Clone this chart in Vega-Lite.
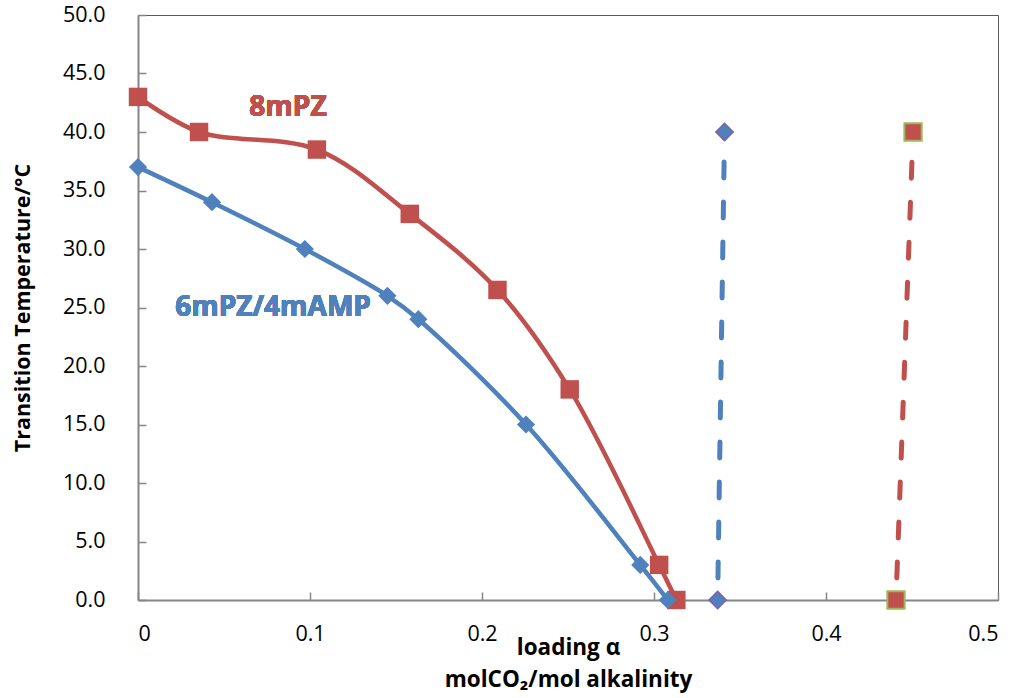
{
  "$schema": "https://vega.github.io/schema/vega-lite/v6.json",
  "width": 860,
  "height": 585,
  "autosize": "none",
  "padding": {"left": 138, "top": 15, "right": 20, "bottom": 98},
  "background": "white",
  "config": {
    "view": {"stroke": "#595959", "strokeWidth": 1},
    "font": "Open Sans",
    "axis": {
      "grid": false,
      "domainColor": "#868686",
      "domainWidth": 2,
      "tickColor": "#868686",
      "tickWidth": 1.5,
      "labelFont": "Open Sans",
      "labelFontSize": 21.5,
      "labelColor": "#000000",
      "titleFont": "Open Sans",
      "titleFontSize": 21.5,
      "titleFontWeight": "bold",
      "titleColor": "#000000"
    }
  },
  "data": {
    "values": [
      {"series": "8mPZ", "x": 0.0, "y": 43},
      {"series": "8mPZ", "x": 0.0355, "y": 40},
      {"series": "8mPZ", "x": 0.104, "y": 38.5},
      {"series": "8mPZ", "x": 0.158, "y": 33},
      {"series": "8mPZ", "x": 0.209, "y": 26.5},
      {"series": "8mPZ", "x": 0.251, "y": 18},
      {"series": "8mPZ", "x": 0.303, "y": 3},
      {"series": "8mPZ", "x": 0.313, "y": 0},
      {"series": "6mPZ/4mAMP", "x": 0.0, "y": 37},
      {"series": "6mPZ/4mAMP", "x": 0.043, "y": 34},
      {"series": "6mPZ/4mAMP", "x": 0.097, "y": 30},
      {"series": "6mPZ/4mAMP", "x": 0.145, "y": 26},
      {"series": "6mPZ/4mAMP", "x": 0.163, "y": 24},
      {"series": "6mPZ/4mAMP", "x": 0.2256, "y": 15},
      {"series": "6mPZ/4mAMP", "x": 0.292, "y": 3},
      {"series": "6mPZ/4mAMP", "x": 0.308, "y": 0},
      {"series": "blue dashed", "x": 0.341, "y": 40},
      {"series": "blue dashed", "x": 0.337, "y": 0},
      {"series": "red dashed", "x": 0.4506, "y": 40},
      {"series": "red dashed", "x": 0.4407, "y": 0}
    ]
  },
  "encoding": {
    "x": {
      "field": "x", "type": "quantitative",
      "scale": {"domain": [0, 0.5], "nice": false, "zero": false},
      "axis": {
        "values": [0, 0.1, 0.2, 0.3, 0.4, 0.5],
        "labelExpr": "datum.value == 0 ? '0' : format(datum.value, '.1f')",
        "tickSize": -8,
        "labelPadding": 31,
        "title": ["loading α", "molCO₂/mol alkalinity"],
        "titleLineHeight": 32,
        "titlePadding": -8,
        "titleFontSize": 22.5
      }
    },
    "y": {
      "field": "y", "type": "quantitative",
      "scale": {"domain": [0, 50], "nice": false, "zero": false},
      "axis": {
        "values": [0, 5, 10, 15, 20, 25, 30, 35, 40, 45, 50],
        "format": ".1f",
        "tickSize": -8,
        "labelPadding": 41,
        "title": "Transition Temperature/°C",
        "titlePadding": 28
      }
    }
  },
  "layer": [
    {
      "transform": [{"filter": "datum.series == '8mPZ'"}],
      "mark": {"type": "line", "color": "#C0504D", "strokeWidth": 4.5, "interpolate": "catmull-rom"}
    },
    {
      "transform": [{"filter": "datum.series == '6mPZ/4mAMP'"}],
      "mark": {"type": "line", "color": "#4F81BD", "strokeWidth": 4.5, "interpolate": "catmull-rom"}
    },
    {
      "transform": [{"filter": "datum.series == 'blue dashed'"}],
      "mark": {"type": "line", "color": "#4F81BD", "strokeWidth": 5, "strokeDash": [16, 24], "strokeCap": "round", "strokeDashOffset": -22}
    },
    {
      "transform": [{"filter": "datum.series == 'red dashed'"}],
      "mark": {"type": "line", "color": "#C0504D", "strokeWidth": 5, "strokeDash": [16, 24], "strokeCap": "round", "strokeDashOffset": -22}
    },
    {
      "transform": [{"filter": "datum.series == '8mPZ'"}],
      "mark": {"type": "point", "shape": "square", "filled": true, "color": "#C0504D", "size": 340, "opacity": 1}
    },
    {
      "transform": [{"filter": "datum.series == '6mPZ/4mAMP'"}],
      "mark": {"type": "point", "shape": "diamond", "filled": true, "color": "#4F81BD", "size": 330, "opacity": 1}
    },
    {
      "transform": [{"filter": "datum.series == 'blue dashed'"}],
      "mark": {"type": "point", "shape": "diamond", "filled": true, "fill": "#4F81BD", "stroke": "#7F60A8", "strokeWidth": 1.5, "size": 300, "opacity": 1}
    },
    {
      "transform": [{"filter": "datum.series == 'red dashed'"}],
      "mark": {"type": "point", "shape": "square", "filled": true, "fill": "#C0504D", "stroke": "#9BBB59", "strokeWidth": 2, "size": 300, "opacity": 1}
    },
    {
      "mark": {"type": "text", "text": "8mPZ", "color": "#C0504D", "fontSize": 28, "fontWeight": "bold", "font": "Open Sans", "align": "center", "baseline": "middle"},
      "encoding": {"x": {"datum": 0.0872}, "y": {"datum": 42.05}}
    },
    {
      "mark": {"type": "text", "text": "6mPZ/4mAMP", "color": "#4F81BD", "fontSize": 28, "fontWeight": "bold", "font": "Open Sans", "align": "center", "baseline": "middle"},
      "encoding": {"x": {"datum": 0.0785}, "y": {"datum": 24.96}}
    }
  ]
}
